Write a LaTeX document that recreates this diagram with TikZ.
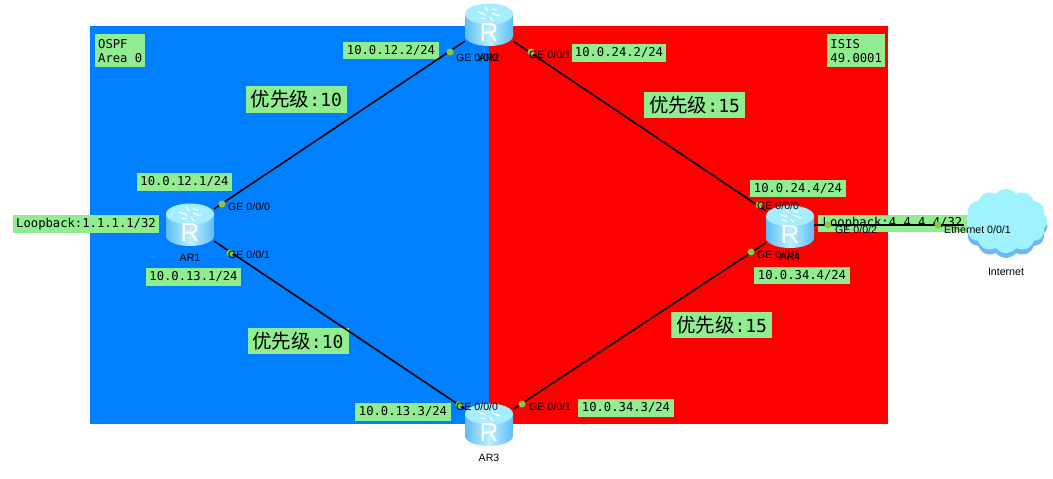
\documentclass[tikz,border=0pt]{standalone}
\usepackage{fontspec}
\usepackage{tikz}
\usepackage{xcolor}
\setmainfont{Liberation Sans}
\newfontfamily\labelfont{DejaVu Sans Mono}
\newfontfamily\cjkfont{Noto Sans CJK SC}
\usetikzlibrary{shapes.symbols, shadows, arrows, positioning, calc}
\definecolor{areablue}{HTML}{007FFF}
\definecolor{areared}{HTML}{FF0000}
\definecolor{notegreen}{HTML}{90EE90}
\definecolor{portgreen}{HTML}{8CC63F}
\definecolor{routertop}{HTML}{A6EEFF}
\definecolor{routeredge}{HTML}{5FBDF5}
\definecolor{routermid}{HTML}{BDEFFF}
\definecolor{cloudfill}{HTML}{A0F2FF}
\definecolor{cloudshade}{HTML}{6FB8F5}
\newcommand{\priotext}[1]{{\cjkfont\fontsize{19.5}{22}\selectfont 优先级}{\labelfont\fontsize{18}{20}\selectfont:#1}}

\begin{document}
\begin{tikzpicture}[
    x=1pt, y=-1pt,
    routerbase/.style={rectangle, minimum width=48pt, minimum height=43pt, inner sep=0pt},
    area/.style={rectangle, draw=none, minimum height=398pt, minimum width=399pt, inner sep=0pt},
    note/.style={rectangle, fill=notegreen, inner sep=0pt, minimum height=17.5pt, text centered, font=\labelfont\fontsize{12.2}{14}\selectfont},
    areanote/.style={note, align=left, minimum height=33pt},
    prio/.style={rectangle, fill=notegreen, inner sep=0pt, minimum width=101pt, minimum height=26.5pt},
    port/.style={circle, fill=portgreen, inner sep=0pt, minimum size=7pt},
    portname/.style={anchor=west, inner sep=0pt, font=\fontsize{10.6}{12}\selectfont},
    devname/.style={inner sep=0pt, font=\fontsize{10.6}{12}\selectfont},
    link/.style={line width=1.6pt, draw=black},
    net/.style={cloud, cloud puffs=12, cloud puff arc=105, aspect=1.25, minimum width=83pt, minimum height=64pt, inner sep=0pt, fill=cloudfill,
        drop shadow={shadow xshift=0pt, shadow yshift=-5pt, fill=cloudshade, opacity=1}},
    routericon/.pic={
        \path [left color=routeredge, right color=routeredge, middle color=routermid] (-24,-11) -- (-24,11) arc[x radius=24, y radius=10, start angle=180, end angle=0] -- (24,-11) -- cycle;
        \path [fill=routertop] (0,-11) ellipse[x radius=24, y radius=10.5];
        \draw [white, line width=1.2pt] (-11,-13) -- (-3,-10) (11,-9) -- (3,-12) (-4,-18) -- (-1,-14) (4,-4) -- (1,-8) (-8,-7) -- (-3,-6) (8,-15) -- (3,-16);
        \node [white, inner sep=0pt, font=\fontsize{26}{26}\selectfont] at (0,8) {R};
    }
]

% areas
\node (ospf) [area, fill=areablue] at (289.5,225) {};
\node (isis) [area, fill=areared] at (688.5,225) {};

% devices
\node (ar1) [routerbase] at (190,225) {};
\node (ar2) [routerbase] at (489,25) {};
\node (ar3) [routerbase] at (489,425) {};
\node (ar4) [routerbase] at (790,227) {};
\node (inet) [net] at (1006,221) {};

\node (areaa) [areanote, minimum width=50pt, anchor=north west] at (95,34) {OSPF\\Area 0};
\node (areab) [areanote, minimum width=58pt, anchor=north west] at (827,34) {ISIS\\49.0001};

% addresses
\node (ip122) [note, minimum width=96pt] at (391,50.5) {10.0.12.2/24};
\node (ip242) [note, minimum width=94pt] at (619,53) {10.0.24.2/24};
\node (ip244) [note, minimum width=96pt] at (798,188.5) {10.0.24.4/24};
\node (ip344) [note, minimum width=96pt] at (802,275.5) {10.0.34.4/24};
\node (ip121) [note, minimum width=95pt] at (184.5,182) {10.0.12.1/24};
\node (ip131) [note, minimum width=95pt] at (193.5,277) {10.0.13.1/24};
\node (ip133) [note, minimum width=96pt] at (403,412) {10.0.13.3/24};
\node (ip343) [note, minimum width=96pt] at (626,408) {10.0.34.3/24};
\node (lo1) [note, minimum width=146pt] at (86,224) {Loopback:1.1.1.1/32};
\node (lo4) [note, minimum width=149pt] at (892.5,223.5) {Loopback:4.4.4.4/32};

% priorities
\node (prio12) [prio] at (296.5,99.5) {\priotext{10}};
\node (prio13) [prio] at (298,341) {\priotext{10}};
\node (prio24) [prio] at (694.5,105) {\priotext{15}};
\node (prio34) [prio] at (721.5,325) {\priotext{15}};

% links
\draw [link] (ar1) -- (ar2);
\draw [link] (ar2) -- (ar4);
\draw [link] (ar1) -- (ar3);
\draw [link] (ar3) -- (ar4);
\draw [link] (ar4.east |- 0,225) -- (inet.west |- 0,225);

\foreach \dev in {ar1,ar2,ar3,ar4}
    \pic at (\dev) {routericon};

% ports
\node (p1a) [port] at (222,204) {};
\node (p1b) [port] at (230,253) {};
\node (p2a) [port] at (450,52) {};
\node (p2b) [port] at (531,52) {};
\node (p3a) [port] at (459,405) {};
\node (p3b) [port] at (522,404) {};
\node (p4a) [port] at (759,205) {};
\node (p4b) [port] at (751,252) {};
\node (p4c) [port] at (828,225) {};
\node (p5a) [port] at (938,225) {};

\node [portname] at (228,207) {GE 0/0/0};
\node [portname] at (228,255) {GE 0/0/1};
\node [portname] at (456,58) {GE 0/0/0};
\node [portname] at (529,55) {GE 0/0/1};
\node [portname] at (456,407) {GE 0/0/0};
\node [portname] at (529,407) {GE 0/0/1};
\node [portname] at (757,206) {GE 0/0/0};
\node [portname] at (757,255) {GE 0/0/1};
\node [portname] at (835,230) {GE 0/0/2};
\node [portname] at (944,230) {Ethernet 0/0/1};

\node (name1) [devname] at (190,258) {AR1};
\node (name2) [devname] at (489,58) {AR2};
\node (name3) [devname] at (489,458) {AR3};
\node (name4) [devname] at (790,257) {AR4};
\node (name5) [devname] at (1006,272) {Internet};

\useasboundingbox (0,0) rectangle (1053,479);
\end{tikzpicture}
\end{document}
